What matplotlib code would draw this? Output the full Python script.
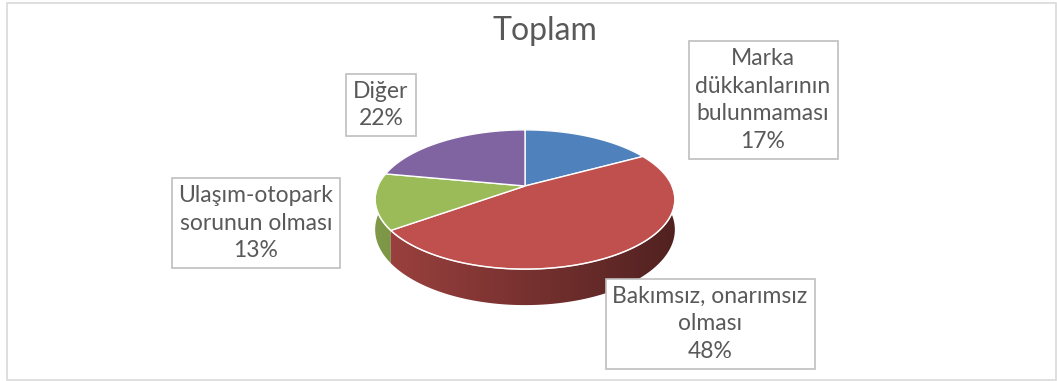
import numpy as np
import matplotlib.pyplot as plt
from matplotlib.patches import Polygon, Rectangle
from matplotlib.colors import to_rgb

labels = ["Marka\ndükkanlarının\nbulunmaması", "Bakımsız, onarımsız\nolması",
          "Ulaşım-otopark\nsorunun olması", "Diğer"]
values = [17, 48, 13, 22]
colors = ["#4F81BD", "#C0504D", "#9BBB59", "#8064A2"]
label_pos = [(763, 100), (710, 324), (256, 223), (381, 105)]

plt.rcParams['font.family'] = ['Lato', 'DejaVu Sans']
TXT = '#595959'

# pie geometry in pixel units, tilted disk with a bit of perspective
cx, cy = 525, 186
A, B, C = 147, 67, 0.194
H = 29


def proj(phi, drop=0.0):
    u = np.sin(phi)
    v = -np.cos(phi)
    d = 1 - C * v
    return cx + A * u / d, cy + (B * v + drop) / d


fig = plt.figure(figsize=(10.57, 3.81), dpi=100)
ax = fig.add_axes([0, 0, 1, 1])
ax.axis('off')

ax.add_patch(Rectangle((7, 3), 1049, 377, fc='none', ec='#D9D9D9', lw=1.2))

fracs = np.array(values, dtype=float) / sum(values)
bounds = np.concatenate([[0], np.cumsum(fracs)]) * 2 * np.pi

# side walls with a left-to-right darkening gradient, back slices first
gx = np.linspace(360, 690, 300)
shade = np.clip(0.82 - 0.40 * (gx - 376) / 300.0, 0.35, 0.9)
mids = (bounds[:-1] + bounds[1:]) / 2
for i in np.argsort(-np.cos(mids)):
    ph = np.linspace(bounds[i], bounds[i + 1], 200)
    tx, ty = proj(ph)
    bx, by = proj(ph[::-1], H)
    side = Polygon(list(zip(tx, ty)) + list(zip(bx, by)), closed=True,
                   fc='none', ec='none')
    ax.add_patch(side)
    grad = np.array(to_rgb(colors[i]))[None, None, :] * shade[None, :, None]
    im = ax.imshow(np.repeat(grad, 2, axis=0), extent=(360, 690, 330, 110),
                   aspect='auto', interpolation='bilinear', zorder=1)
    im.set_clip_path(side)

# top surface
for i, col in enumerate(colors):
    ph = np.linspace(bounds[i], bounds[i + 1], 200)
    xs, ys = proj(ph)
    pts = [(cx, cy)] + list(zip(xs, ys))
    ax.add_patch(Polygon(pts, closed=True, fc=col, ec='white', lw=1.0, zorder=2))

# light rim along the front edge
ph = np.linspace(np.pi / 2, 3 * np.pi / 2, 200)
xs, ys = proj(ph)
ax.plot(xs, ys, color='white', lw=1.0, alpha=0.7, zorder=3)

ax.text(545, 31, "Toplam", ha='center', va='center', fontsize=23, color=TXT)

for lab, val, (x, y) in zip(labels, values, label_pos):
    ax.text(x, y, f"{lab}\n{val}%", ha='center', va='center', multialignment='center',
            fontsize=16.5, color=TXT, linespacing=1.4, zorder=4,
            bbox=dict(boxstyle='square,pad=0.3', fc='white', ec='#BFBFBF', lw=1.2))

ax.set_xlim(0, 1057)
ax.set_ylim(381, 0)
fig.savefig('out.png', dpi=100)
